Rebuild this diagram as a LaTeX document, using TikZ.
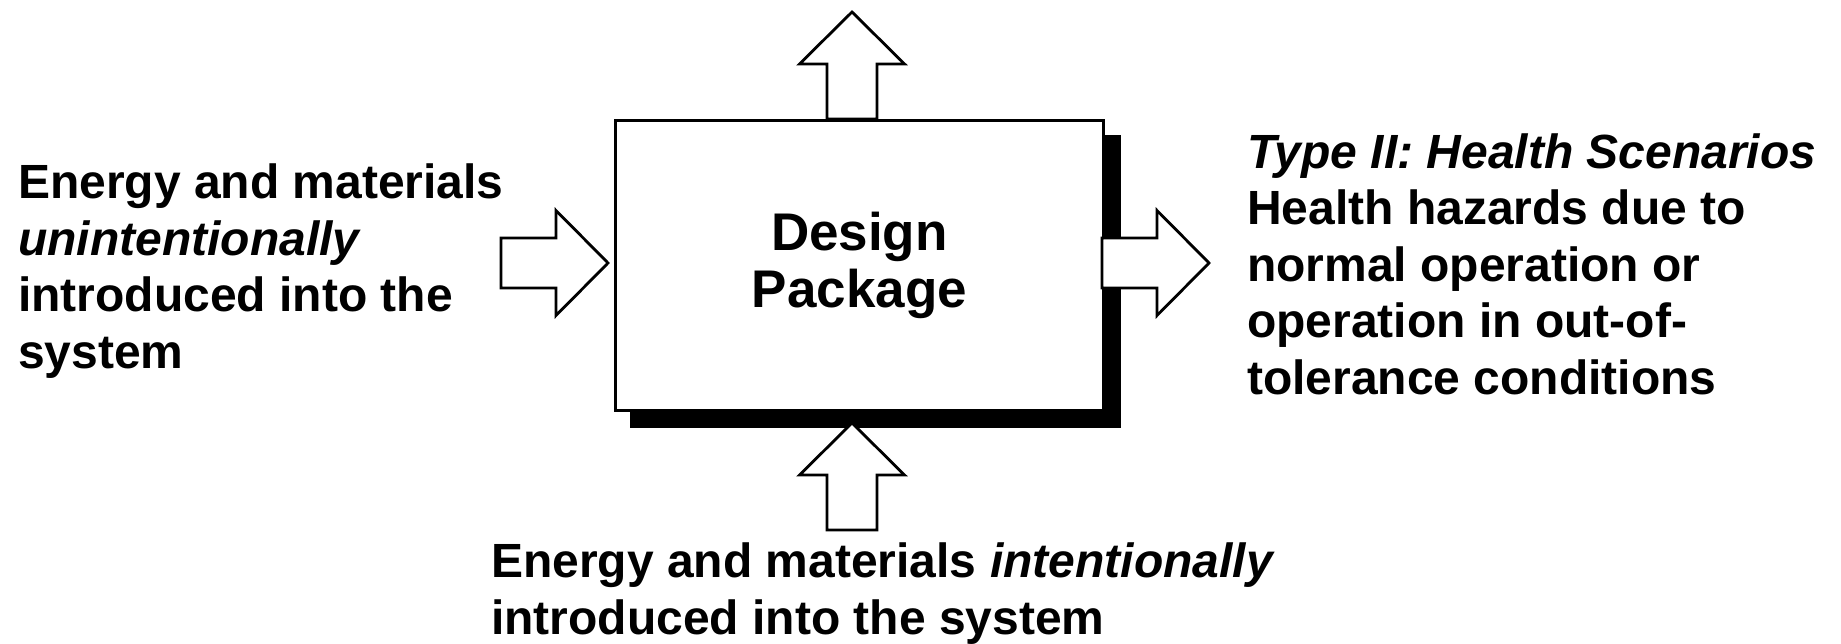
\documentclass[tikz,border=0pt]{standalone}
\usepackage{fontspec}
\setmainfont{Liberation Sans}
\usetikzlibrary{calc}
\begin{document}
\begin{tikzpicture}[x=1pt,y=-1pt,
  lbl/.style={font=\fontsize{48}{56.5}\selectfont\bfseries, align=left, inner sep=0pt, anchor=base west},
  outline/.style={draw=black, line width=2.8pt, fill=white, line join=miter},
  blockarr/.pic={\draw[outline] (0,0) -- (-52,-52.5) -- (-52,-25) -- (-107,-25)
                   -- (-107,25) -- (-52,25) -- (-52,52.5) -- cycle;}
]
\fill[white] (0,0) rectangle (1841,644);
\useasboundingbox (0,0) rectangle (1841,644);

% central block with its drop shadow
\node[outline, minimum width=488pt, minimum height=290pt, inner sep=0pt, anchor=north west]
  (pkg) at (614,119) {};
\fill ([shift={(16,16)}]pkg.north west) rectangle ([shift={(16,16)}]pkg.south east);
\node[outline, minimum width=488pt, minimum height=290pt, inner sep=0pt, anchor=north west]
  (pkgface) at (614,119) {};
\node[font=\fontsize{53}{57.5}\selectfont\bfseries, align=center, inner sep=0pt]
  (title) at (pkgface.center) {Design\\Package};

% arrow tips
\coordinate (tipL) at (608,263);
\coordinate (tipR) at (1209,263);
\coordinate (tipT) at (852,12);
\coordinate (tipB) at (852,423);

\pic at (tipL) {blockarr};
\pic at (tipR) {blockarr};
\pic[rotate=90] at (tipT) {blockarr};
\pic[rotate=90] at (tipB) {blockarr};

% labels (anchored on the baseline of their last line)
\node[lbl] (inL) at (18,368)
  {Energy and materials\\\textit{unintentionally}\\introduced into the\\system};
\node[lbl] (outR) at (1247,394)
  {\textit{Type II: Health Scenarios}\\Health hazards due to\\normal operation or\\operation in out-of-\\tolerance conditions};
\node[lbl] (inB) at (491,634)
  {Energy and materials \textit{intentionally}\\introduced into the system};
\end{tikzpicture}
\end{document}
